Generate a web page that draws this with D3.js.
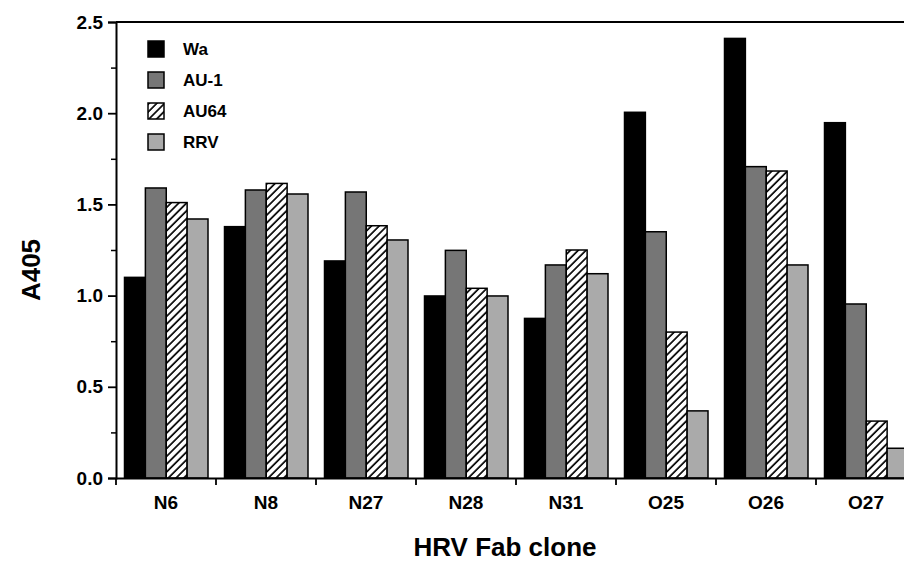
<!DOCTYPE html>
<html>
<head>
<meta charset="utf-8">
<script src="https://cdn.jsdelivr.net/npm/d3@7"></script>
<style>
html, body { margin: 0; padding: 0; background: #fff; overflow: hidden; }
svg { display: block; font-family: "Liberation Sans", Arial, Helvetica, sans-serif; font-weight: bold; }
</style>
</head>
<body>
<svg id="chart" width="904" height="572"></svg>
<script>
const categories = ["N6", "N8", "N27", "N28", "N31", "O25", "O26", "O27"];
const seriesNames = ["Wa", "AU-1", "AU64", "RRV"];
const waValues   = [1.10, 1.378, 1.19, 0.998, 0.875, 2.005, 2.41, 1.948];
const au1Values  = [1.59, 1.579, 1.568, 1.248, 1.168, 1.35, 1.707, 0.954];
const au64Values = [1.51, 1.615, 1.383, 1.04, 1.25, 0.80, 1.683, 0.312];
const rrvValues  = [1.42, 1.557, 1.305, 0.998, 1.12, 0.368, 1.168, 0.163];
const majorTicks = [0.0, 0.5, 1.0, 1.5, 2.0, 2.5];
const minorTicks = [0.25, 0.75, 1.25, 1.75, 2.25];
const yTitle = "A405";
const xTitle = "HRV Fab clone";

const seriesValues = [waValues, au1Values, au64Values, rrvValues];
const fills = ["#000000", "#767676", "url(#hatch)", "#aaaaaa"];

const svg = d3.select("#chart");
const mLeft = 116, mRight = 916, mTop = 22, mBottom = 478;

const defs = svg.append("defs");
const pat = defs.append("pattern")
  .attr("id", "hatch").attr("patternUnits", "userSpaceOnUse")
  .attr("width", 5.5).attr("height", 5.5)
  .attr("patternTransform", "rotate(45)");
pat.append("rect").attr("width", 5.5).attr("height", 5.5).attr("fill", "#fff");
pat.append("line").attr("x1", 1).attr("y1", 0).attr("x2", 1).attr("y2", 5.5)
  .attr("stroke", "#000").attr("stroke-width", 1.7);

const x0 = d3.scaleBand().domain(categories).range([mLeft, mRight]).paddingInner(0).paddingOuter(0);
const x1 = d3.scaleBand().domain(seriesNames).range([8.5, x0.bandwidth() - 8]).padding(0);
const y = d3.scaleLinear().domain([0, 2.5]).range([mBottom, mTop]);

// bars
const groups = svg.append("g").selectAll("g").data(categories).join("g")
  .attr("transform", d => `translate(${x0(d)},0)`);
groups.selectAll("rect")
  .data((c, ci) => seriesNames.map((s, si) => ({ s, si, v: seriesValues[si][ci] })))
  .join("rect")
  .attr("x", d => x1(d.s))
  .attr("y", d => y(d.v))
  .attr("width", x1.bandwidth())
  .attr("height", d => y(0) - y(d.v))
  .attr("fill", d => fills[d.si])
  .attr("stroke", "#000")
  .attr("stroke-width", 1.5);

// y axis major
const yAxis = svg.append("g").attr("transform", `translate(${mLeft},0)`)
  .call(d3.axisLeft(y).tickValues(majorTicks).tickFormat(d3.format(".1f")).tickSize(8).tickPadding(5));
yAxis.select(".domain").attr("stroke-width", 2);
yAxis.selectAll(".tick line").attr("stroke-width", 1.8);
yAxis.selectAll(".tick text").attr("font-size", 19).attr("font-weight", "bold")
  .attr("font-family", "'Liberation Sans', Arial, sans-serif").attr("fill", "#000");

// y axis minor
const yMinor = svg.append("g").attr("transform", `translate(${mLeft},0)`)
  .call(d3.axisLeft(y).tickValues(minorTicks).tickFormat("").tickSize(5));
yMinor.select(".domain").remove();
yMinor.selectAll(".tick line").attr("stroke-width", 1.5);

// top line
svg.append("line").attr("x1", mLeft).attr("x2", 904).attr("y1", y(2.5)).attr("y2", y(2.5))
  .attr("stroke", "#000").attr("stroke-width", 2);

// x axis
const xAxis = svg.append("g").attr("transform", `translate(0,${mBottom})`)
  .call(d3.axisBottom(x0).tickSize(0).tickPadding(18));
xAxis.select(".domain").attr("stroke-width", 2);
xAxis.selectAll(".tick text").attr("font-size", 19).attr("font-weight", "bold")
  .attr("font-family", "'Liberation Sans', Arial, sans-serif").attr("fill", "#000");
// group boundary ticks
const bounds = categories.map(c => x0(c)).concat([x0(categories[categories.length - 1]) + x0.bandwidth()]);
svg.append("g").selectAll("line").data(bounds).join("line")
  .attr("x1", d => d).attr("x2", d => d)
  .attr("y1", mBottom).attr("y2", mBottom + 7)
  .attr("stroke", "#000").attr("stroke-width", 1.8);

// titles
svg.append("text").attr("x", 505).attr("y", 556).attr("text-anchor", "middle")
  .attr("font-size", 26).text(xTitle);
svg.append("text").attr("transform", "translate(40,270) rotate(-90)").attr("text-anchor", "middle")
  .attr("font-size", 26).text(yTitle);

// legend
const legend = svg.append("g").selectAll("g").data(seriesNames).join("g")
  .attr("transform", (d, i) => `translate(148,${41 + i * 31})`);
legend.append("rect").attr("width", 16).attr("height", 16)
  .attr("fill", (d, i) => fills[i]).attr("stroke", "#000").attr("stroke-width", 1.5);
legend.append("text").attr("x", 35).attr("y", 8).attr("dy", "0.35em")
  .attr("font-size", 17).text(d => d);
</script>
</body>
</html>
